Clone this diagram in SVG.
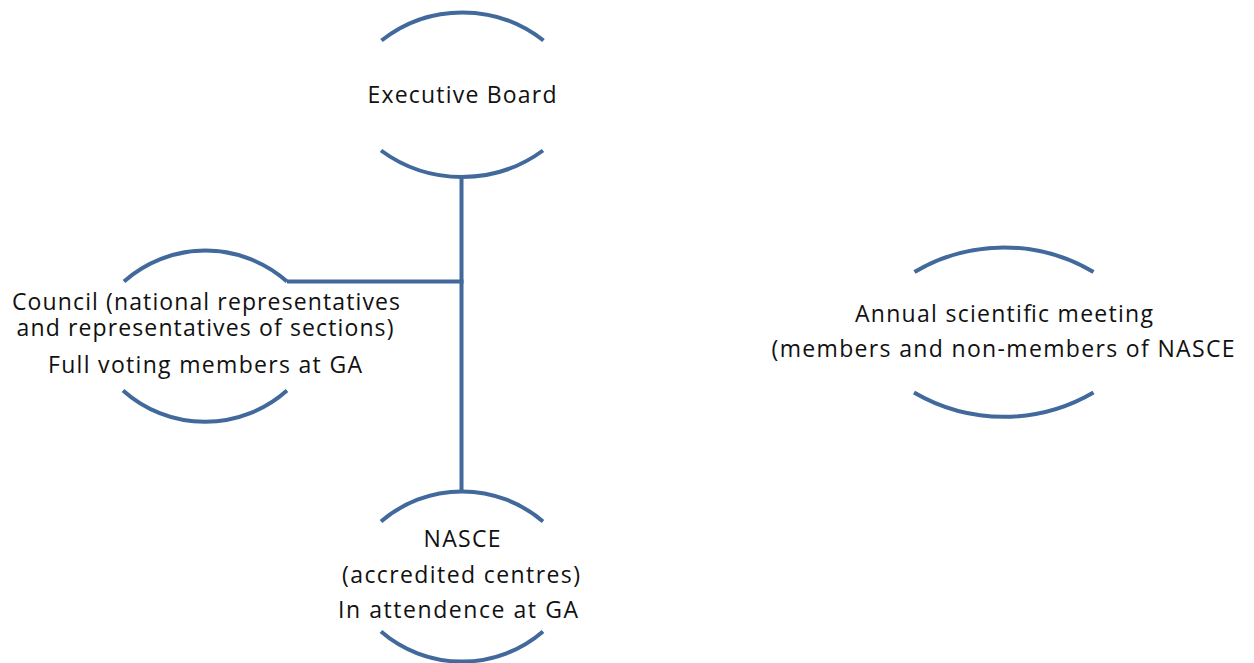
<svg xmlns="http://www.w3.org/2000/svg" width="1254" height="663" viewBox="0 0 1254 663">
<style>
.arc{fill:none;stroke:#41699b;stroke-width:4;stroke-linecap:butt}
.conn{fill:none;stroke:#41699b;stroke-width:4}
text{font-family:"Open Sans","Liberation Sans",sans-serif;font-size:23px;fill:#111;text-anchor:middle}
</style>
<rect width="1254" height="663" fill="#fff"/>
<g id="connectors">
<line class="conn" x1="461.5" y1="177" x2="461.5" y2="493"/>
<line class="conn" x1="287" y1="281.5" x2="463.5" y2="281.5"/>
</g>
<g id="executive-board">
<path class="arc" d="M381.5,40.5 A131,131 0 0 1 543.5,40.5"/>
<path class="arc" d="M381,150.5 A137,137 0 0 0 543,150.5"/>
<text x="462" y="103" textLength="189" lengthAdjust="spacing">Executive Board</text>
</g>
<g id="council">
<path class="arc" d="M124,281.5 A123,123 0 0 1 287,281.5"/>
<path class="arc" d="M123,390.5 A123,123 0 0 0 287,390.5"/>
<text x="206" y="310" textLength="388" lengthAdjust="spacing">Council (national representatives</text>
<text x="205" y="336" textLength="377" lengthAdjust="spacing">and representatives of sections)</text>
<text x="205" y="373" textLength="314" lengthAdjust="spacing">Full voting members at GA</text>
</g>
<g id="nasce">
<path class="arc" d="M381,521.5 A124,124 0 0 1 543,521.5"/>
<path class="arc" d="M381,631.5 A124,124 0 0 0 543,631.5"/>
<text x="462" y="547" textLength="77" lengthAdjust="spacing">NASCE</text>
<text x="461" y="583" textLength="238" lengthAdjust="spacing">(accredited centres)</text>
<text x="458" y="618" textLength="240" lengthAdjust="spacing">In attendence at GA</text>
</g>
<g id="annual-meeting">
<path class="arc" d="M914.5,272 A175,175 0 0 1 1093.5,272"/>
<path class="arc" d="M914,392.5 A178,178 0 0 0 1093.5,392.5"/>
<text x="1004" y="322" textLength="298" lengthAdjust="spacing">Annual scientific meeting</text>
<text x="1003" y="357" textLength="463" lengthAdjust="spacing">(members and non-members of NASCE</text>
</g>
</svg>
